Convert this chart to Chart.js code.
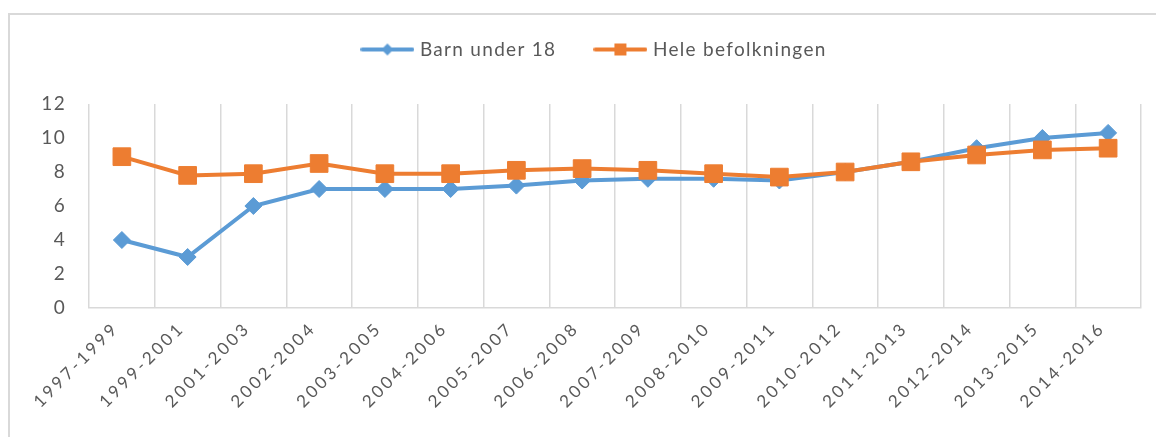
<!DOCTYPE html>
<html>
<head>
<meta charset="utf-8">
<script src="https://cdn.jsdelivr.net/npm/chart.js@4/dist/chart.umd.min.js"></script>
<style>
html, body { margin: 0; padding: 0; background: #fff; }
#frame { position: absolute; left: 8px; top: 13px; width: 1148px; height: 424px; border-top: 2px solid #d9d9d9; border-left: 2px solid #d9d9d9; box-sizing: border-box; }
#chart { position: absolute; left: 0; top: 0; }
</style>
</head>
<body>
<div id="frame"></div>
<canvas id="chart" width="1156" height="437"></canvas>
<script>
const periods = ['1997-1999', '1999-2001', '2001-2003', '2002-2004', '2003-2005', '2004-2006', '2005-2007', '2006-2008',
    '2007-2009', '2008-2010', '2009-2011', '2010-2012', '2011-2013', '2012-2014', '2013-2015', '2014-2016'];
const barnUnder18 = [4.0, 3.0, 6.0, 7.0, 7.0, 7.0, 7.2, 7.5, 7.6, 7.6, 7.5, 8.0, 8.6, 9.4, 10.0, 10.3];
const heleBefolkningen = [8.9, 7.8, 7.9, 8.5, 7.9, 7.9, 8.1, 8.2, 8.1, 7.9, 7.7, 8.0, 8.6, 9.0, 9.3, 9.4];
const yTicks = [0, 2, 4, 6, 8, 10, 12];

const blue = '#5b9bd5';
const orange = '#ed7d31';
const textColor = '#595959';
const gridColor = '#d9d9d9';
const fontFamily = 'Lato, "Open Sans", sans-serif';

// little line + marker picture for the legend
function legendIcon(color, shape) {
    const c = document.createElement('canvas');
    c.width = 54; c.height = 16;
    const g = c.getContext('2d');
    g.strokeStyle = color;
    g.lineWidth = 4;
    g.lineCap = 'round';
    g.beginPath(); g.moveTo(2, 8); g.lineTo(52, 8); g.stroke();
    g.fillStyle = color;
    if (shape === 'diamond') {
        g.beginPath(); g.moveTo(27, 2); g.lineTo(33, 8); g.lineTo(27, 14); g.lineTo(21, 8); g.closePath(); g.fill();
    } else {
        g.fillRect(21, 2, 12, 12);
    }
    return c;
}
const icons = [legendIcon(blue, 'diamond'), legendIcon(orange, 'square')];

// spacing tweaks: room under the legend, legend a bit right, wider letters like the original
const tweaks = {
    id: 'tweaks',
    beforeInit(chart) {
        const fit = chart.legend.fit;
        chart.legend.fit = function () {
            fit.bind(this)();
            this.height += 28;
        };
    },
    afterLayout(chart) {
        const lg = chart.legend;
        lg.left += 25; lg.right += 25;
        lg.top -= 7; lg.bottom -= 7;
    },
    beforeUpdate(chart) {
        chart.ctx.letterSpacing = '1.3px';
    },
    beforeDraw(chart) {
        chart.ctx.letterSpacing = '1.3px';
    },
    afterUpdate(chart) {
        const s = chart.scales.x;
        if (s._spaced) return;
        const orig = s.drawLabels;
        s.drawLabels = function (area) {
            const ctx = this.ctx;
            ctx.save();
            ctx.letterSpacing = '3px';
            orig.call(this, area);
            ctx.restore();
        };
        s._spaced = true;
    }
};

const ctx = document.getElementById('chart').getContext('2d');
const chart = new Chart(ctx, {
    type: 'line',
    data: {
        labels: periods,
        datasets: [{
            label: 'Barn under 18',
            data: barnUnder18,
            borderColor: blue,
            backgroundColor: blue,
            borderWidth: 4,
            pointStyle: 'rectRot',
            pointRadius: 8.5,
            pointBorderWidth: 1,
            tension: 0,
            order: 1
        }, {
            label: 'Hele befolkningen',
            data: heleBefolkningen,
            borderColor: orange,
            backgroundColor: orange,
            borderWidth: 4,
            pointStyle: 'rect',
            pointRadius: 12.5,
            pointBorderWidth: 1,
            tension: 0,
            order: 0
        }]
    },
    options: {
        responsive: false,
        animation: false,
        layout: { padding: { top: 6, right: 15, left: 0, bottom: 0 } },
        plugins: {
            tooltip: { enabled: false },
            legend: {
                position: 'top',
                labels: {
                    usePointStyle: true,
                    pointStyleWidth: 46,
                    padding: 41,
                    color: textColor,
                    font: { family: fontFamily, size: 19 },
                    generateLabels: (ch) => ch.data.datasets.map((ds, i) => ({
                        text: ds.label,
                        pointStyle: icons[i],
                        fillStyle: ds.borderColor,
                        strokeStyle: ds.borderColor,
                        lineWidth: 0,
                        fontColor: textColor,
                        datasetIndex: i
                    }))
                }
            }
        },
        scales: {
            x: {
                offset: true,
                grid: { offset: true, color: gridColor, lineWidth: 1.5, drawTicks: false },
                border: { color: gridColor, width: 1.5 },
                ticks: {
                    color: textColor,
                    font: { family: fontFamily, size: 17 },
                    autoSkip: false,
                    minRotation: 45,
                    maxRotation: 45,
                    padding: 10,
                    labelOffset: -6
                },
                afterFit: (s) => { s.height = 129; }
            },
            y: {
                min: 0,
                max: 12,
                afterBuildTicks: (s) => { s.ticks = yTicks.map(v => ({ value: v })); },
                grid: { display: false, drawTicks: false },
                border: { display: false },
                ticks: {
                    color: textColor,
                    font: { family: fontFamily, size: 19 },
                    padding: 23
                },
                afterFit: (s) => { s.width = 89; }
            }
        }
    },
    plugins: [tweaks]
});
</script>
</body>
</html>
